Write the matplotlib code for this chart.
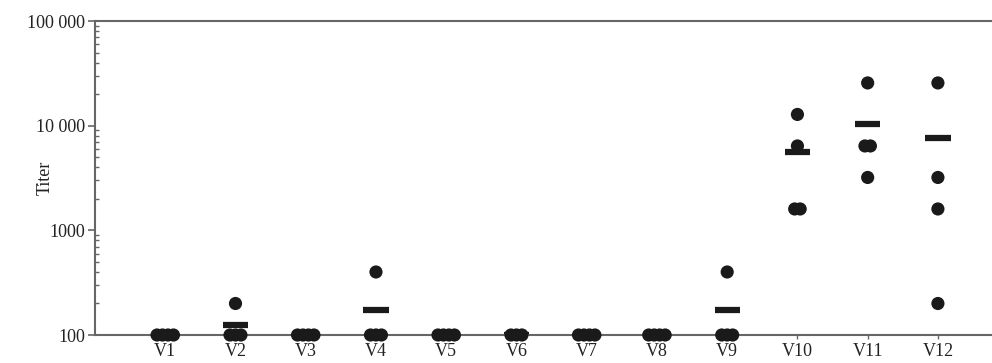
import numpy as np
import matplotlib.pyplot as plt
from matplotlib.ticker import FixedLocator, LogLocator, NullFormatter

plt.rcParams['font.family'] = ['Liberation Serif', 'DejaVu Serif']

groups = ['V1', 'V2', 'V3', 'V4', 'V5', 'V6', 'V7', 'V8', 'V9', 'V10', 'V11', 'V12']
titers = [
    [100, 100, 100, 100],
    [200, 100, 100, 100],
    [100, 100, 100, 100],
    [400, 100, 100, 100],
    [100, 100, 100, 100],
    [100, 100, 100],
    [100, 100, 100, 100],
    [100, 100, 100, 100],
    [400, 100, 100, 100],
    [12800, 6400, 1600, 1600],
    [25600, 6400, 6400, 3200],
    [25600, 3200, 1600, 200],
]
ytick_vals = [100, 1000, 10000, 100000]
ytick_labels = ['100', '1000', '10 000', '100 000']

fig = plt.figure(figsize=(9.92, 3.63), dpi=100)
ax = fig.add_axes([95/992, 1-335/363, 1-95/992, (335-21)/363])

spacing = 0.078
for i, vals in enumerate(groups):
    x0 = i + 1
    v = np.array(titers[i])
    # mean bar
    ax.plot([x0 - 0.18, x0 + 0.18], [v.mean(), v.mean()], color='#1a1a1a',
            lw=4.5, solid_capstyle='butt', zorder=2)
    xs = np.zeros(len(v))
    for u in np.unique(v):
        idx = np.where(v == u)[0]
        n = len(idx)
        xs[idx] = x0 + (np.arange(n) - (n - 1) / 2) * spacing
    ax.scatter(xs, v, s=90, color='#1a1a1a', edgecolors='none', zorder=3, clip_on=False)

ax.set_yscale('log')
ax.set_ylim(100, 100000)
ax.set_xlim(0, 12.77)
ax.yaxis.set_major_locator(FixedLocator(ytick_vals))
ax.set_yticklabels(ytick_labels)
ax.yaxis.set_minor_locator(LogLocator(base=10, subs=np.arange(2, 10)))
ax.yaxis.set_minor_formatter(NullFormatter())
ax.set_xticks(range(1, len(groups) + 1))
ax.set_xticklabels(groups)

for s in ['left', 'bottom', 'top']:
    ax.spines[s].set_color('#666666')
    ax.spines[s].set_linewidth(1.5)
ax.spines['right'].set_visible(False)
ax.tick_params(axis='y', which='major', length=5, width=1.2, color='#666666',
               labelsize=13, labelcolor='#222222', pad=2)
ax.tick_params(axis='y', which='minor', length=3, width=1, color='#666666', direction='in')
ax.tick_params(axis='x', length=3, width=1, color='#666666', labelsize=13,
               labelcolor='#222222', pad=3)
ax.set_ylabel('Titer', fontsize=13, color='#222222')
ax.yaxis.set_label_coords(-0.046, 0.5)

fig.savefig('out.png', dpi=100)
